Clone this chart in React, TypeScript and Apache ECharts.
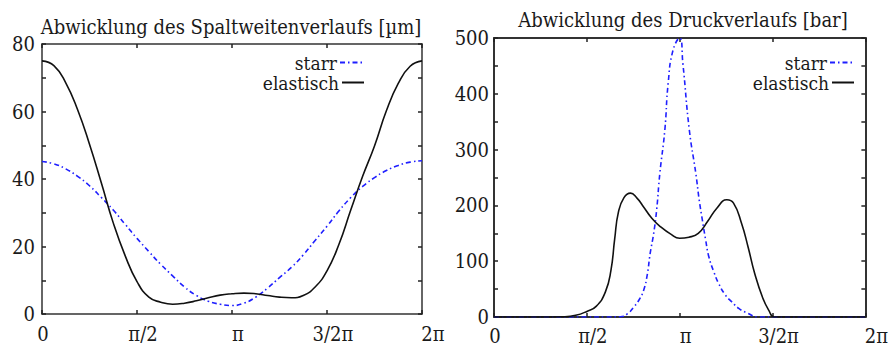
import React, { useEffect, useRef } from "react";
import * as echarts from "echarts";

// x positions in units of π
const gapPhi = [0, 0.0625, 0.125, 0.1875, 0.25, 0.3125, 0.375, 0.4375, 0.5, 0.5625, 0.625, 0.6875, 0.75, 0.8125, 0.875, 0.9375, 1.0, 1.0625, 1.125, 1.1875, 1.25, 1.3125, 1.375, 1.4375, 1.5, 1.5625, 1.625, 1.6875, 1.75, 1.8125, 1.875, 1.9375, 2.0];
const gapElastisch = [75, 73.6, 68.5, 60.5, 50.3, 38.8, 27, 17.3, 9.6, 5.0, 3.5, 2.9, 3.2, 3.9, 4.8, 5.6, 6.0, 6.2, 6.0, 5.5, 5.0, 4.8, 5.5, 8.0, 12.8, 20.6, 30.8, 40.8, 49.8, 60.2, 68.3, 73.4, 75];
const gapStarr = [45.2, 44.5, 43, 40.8, 38, 34.5, 30.8, 26.6, 22.4, 18.5, 14.7, 11.3, 8.0, 5.5, 3.8, 2.9, 2.5, 3.2, 5.0, 7.7, 10.8, 13.8, 17.5, 21.8, 26, 30.5, 34.5, 37.8, 40.4, 42.5, 44, 45, 45.4];

const pressElPhi = [0, 0.25, 0.375, 0.44, 0.5, 0.55, 0.6, 0.63, 0.65, 0.67, 0.7, 0.735, 0.77, 0.8, 0.85, 0.9, 0.95, 1.0, 1.05, 1.1, 1.15, 1.2, 1.254, 1.29, 1.333, 1.368, 1.404, 1.448, 1.48, 1.509, 1.6, 2.0];
const pressElastisch = [0, 0, 0.5, 3, 10, 19, 45, 84, 140, 188, 214, 222, 213, 200, 177, 161, 149, 141, 143, 150, 171, 195, 210, 204, 168, 126, 78, 33.5, 12, 0, 0, 0];
const pressStPhi = [0, 0.5, 0.6, 0.68, 0.72, 0.753, 0.78, 0.806, 0.825, 0.841, 0.86, 0.876, 0.893, 0.92, 0.938, 0.964, 1.0, 1.017, 1.052, 1.087, 1.105, 1.122, 1.14, 1.157, 1.185, 1.21, 1.245, 1.281, 1.32, 1.368, 1.42, 1.5, 2.0];
const pressStarr = [0, 0, 0, 0.5, 6, 18, 30, 48, 75, 114, 150, 192, 257, 335, 419, 478, 500, 455, 335, 257, 210, 174, 138, 108, 80, 60, 40, 27, 15, 6.6, 0, 0, 0];

const xTickLabels: Record<string, string> = { "0": "0", "0.5": "π/2", "1": "π", "1.5": "3/2π", "2": "2π" };
const titles = ["Abwicklung des Spaltweitenverlaufs [µm]", "Abwicklung des Druckverlaufs [bar]"];
const seriesNames = ["starr", "elastisch"];

const FONT = "DejaVu Serif Condensed";
const BLUE = "#1f1fff";
const BLACK = "#111111";
const TXT = "#1a1a1a";

function pairs(xs: number[], ys: number[]) {
  return xs.map((x, i) => [x, ys[i]]);
}

export default function App() {
  const ref = useRef<HTMLDivElement>(null);
  useEffect(() => {
    if (!ref.current) return;
    const chart = echarts.init(ref.current, undefined, { renderer: "svg" });
    const xLabel = (v: number) => {
      const k = String(v);
      const t = xTickLabels[k] ?? "";
      if (k === "0") return `{a|${t}}`;
      if (k === "2") return `{e|${t}}`;
      return `{m|${t}}`;
    };
    const rich = {
      a: { fontFamily: FONT, fontSize: 20, color: TXT, padding: [0, 0, 0, 2] },
      m: { fontFamily: FONT, fontSize: 20, color: TXT, padding: [0, 0, 0, 12] },
      e: { fontFamily: FONT, fontSize: 20, color: TXT, padding: [0, 0, 0, 22] },
    };
    const mkX = (gi: number, lw: number, margin: number) => [
      {
        type: "value", gridIndex: gi, min: 0, max: 2, interval: 0.5, position: "bottom",
        axisLine: { show: true, onZero: false, lineStyle: { color: "#333", width: lw } },
        axisTick: { show: true, inside: true, length: 4, lineStyle: { color: "#222", width: 1.5 } },
        axisLabel: { show: true, margin, formatter: xLabel, rich },
        splitLine: { show: false },
      },
      {
        type: "value", gridIndex: gi, min: 0, max: 2, interval: 0.5, position: "top",
        axisLine: { show: true, onZero: false, lineStyle: { color: "#333", width: lw } },
        axisTick: { show: true, inside: true, length: 4, lineStyle: { color: "#222", width: 1.5 } },
        axisLabel: { show: false },
        splitLine: { show: false },
      },
    ];
    const mkY = (gi: number, max: number, interval: number, labelEvery: number, lw: number, margin: number) => [
      {
        type: "value", gridIndex: gi, min: 0, max, interval, position: "left",
        axisLine: { show: true, onZero: false, lineStyle: { color: "#333", width: lw } },
        axisTick: { show: true, inside: true, length: 4, lineStyle: { color: "#222", width: 1.5 } },
        axisLabel: {
          show: true, margin, fontFamily: FONT, fontSize: 20, color: TXT, padding: [13, 0, 0, 0],
          formatter: (v: number) => (v % labelEvery === 0 ? String(v) : ""),
        },
        splitLine: { show: false },
      },
      {
        type: "value", gridIndex: gi, min: 0, max, interval, position: "right",
        axisLine: { show: true, onZero: false, lineStyle: { color: "#333", width: lw } },
        axisTick: { show: true, inside: true, length: 4, lineStyle: { color: "#222", width: 1.5 } },
        axisLabel: { show: false },
        splitLine: { show: false },
      },
    ];
    const starrStyle = { color: BLUE, width: 1.6, type: [5, 3, 1.5, 3] as any };
    const elStyle = { color: BLACK, width: 1.6, type: "solid" as const };
    const mkSeries = (name: string, xi: number, yi: number, data: number[][], ls: any) => ({
      type: "line", name, xAxisIndex: xi, yAxisIndex: yi, data, symbol: "none", showSymbol: false,
      smooth: 0.5, lineStyle: ls, itemStyle: { color: ls.color },
      clip: true, z: name === "starr" ? 3 : 4,
    });
    const mkLegend = (name: string, right: number, top: number) => ({
      show: true, data: [name], orient: "horizontal", align: "right", right, top,
      itemWidth: 22, itemHeight: 14, itemGap: 0, padding: 0, selectedMode: false,
      itemStyle: { opacity: 0 },
      textStyle: { fontFamily: FONT, fontSize: 19, color: TXT, lineHeight: 19, padding: [0, -2, 0, 0] },
    });
    chart.setOption({
      animation: false,
      backgroundColor: "#ffffff",
      title: [
        { text: titles[0], left: 231, top: 17, textAlign: "center", padding: 0,
          textStyle: { fontFamily: FONT, fontSize: 20, fontWeight: "normal", color: TXT } },
        { text: titles[1], left: 683, top: 10, textAlign: "center", padding: 0,
          textStyle: { fontFamily: FONT, fontSize: 20, fontWeight: "normal", color: TXT } },
      ],
      legend: [
        mkLegend(seriesNames[0], 528, 53),
        mkLegend(seriesNames[1], 526, 73),
        mkLegend(seriesNames[0], 38, 53),
        mkLegend(seriesNames[1], 36, 73),
      ],
      grid: [
        { left: 42, right: 469, top: 44, bottom: 35, containLabel: false },
        { left: 494, right: 18, top: 38, bottom: 32, containLabel: false },
      ],
      xAxis: [...mkX(0, 1.5, 10), ...mkX(1, 2, 9)],
      yAxis: [...mkY(0, 80, 10, 20, 1.5, 7), ...mkY(1, 500, 50, 100, 2, 5)],
      series: [
        mkSeries("starr", 0, 0, pairs(gapPhi, gapStarr), starrStyle),
        mkSeries("elastisch", 0, 0, pairs(gapPhi, gapElastisch), elStyle),
        mkSeries("starr", 2, 2, pairs(pressStPhi, pressStarr), starrStyle),
        mkSeries("elastisch", 2, 2, pairs(pressElPhi, pressElastisch), elStyle),
      ],
    } as any);
    return () => chart.dispose();
  }, []);
  return (
    <div
      ref={ref}
      style={{ position: "fixed", left: 0, top: 0, width: 891, height: 349, background: "#fff" }}
    />
  );
}
